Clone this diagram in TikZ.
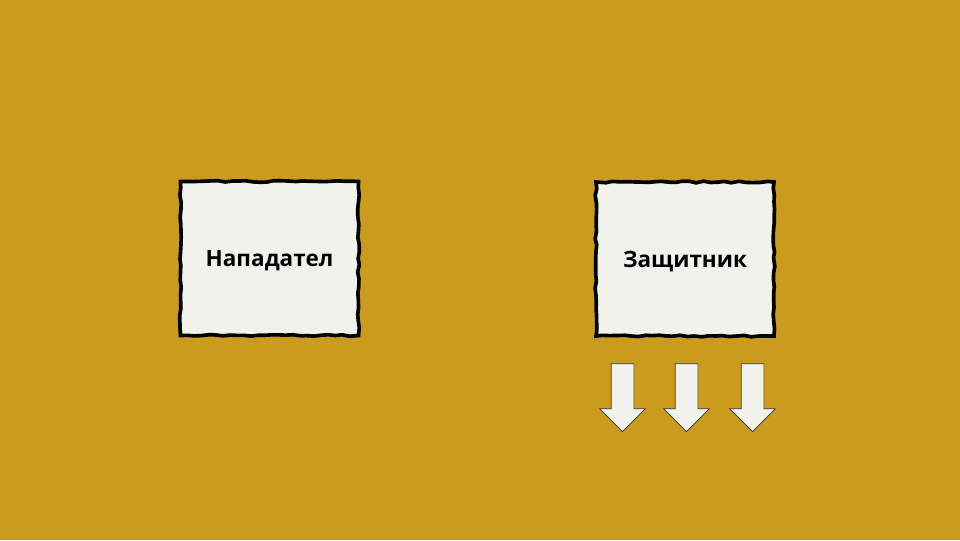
\documentclass[tikz,border=0pt]{standalone}
\usepackage{fontspec}
\setmainfont{Open Sans}
\usetikzlibrary{shapes.arrows,decorations.pathmorphing}
\definecolor{mustard}{RGB}{203,155,30}
\definecolor{paper}{RGB}{242,242,237}

\begin{document}
\begin{tikzpicture}[x=0.025cm,y=-0.025cm,
    card/.style={draw=black,fill=paper,line width=2.6pt,minimum width=4.45cm,minimum height=3.85cm,
      font=\fontsize{16}{18}\selectfont\bfseries,text depth=0pt,
      decorate,decoration={random steps,segment length=5pt,amplitude=0.6pt}},
    downarrow/.style={single arrow,draw=black!80,fill=paper,line width=0.5pt,rotate=-90,
      inner xsep=0pt,inner ysep=0.275cm,text height=0pt,text depth=0pt,
      minimum height=1.7cm,single arrow head extend=0.29cm,single arrow tip angle=90}]
      \fill[mustard] (0,0) rectangle (960,540);
      \pgfmathsetseed{7}
      \node[card] (attacker) at (269.5,258.5) {Нападател};
      \node[card] (defender) at (685,259) {Защитник};
      \foreach \n/\x in {a/622.5,b/686.5,c/752.5}
        \node[downarrow] (arrow\n) at (\x,392) {};
\end{tikzpicture}
\end{document}
